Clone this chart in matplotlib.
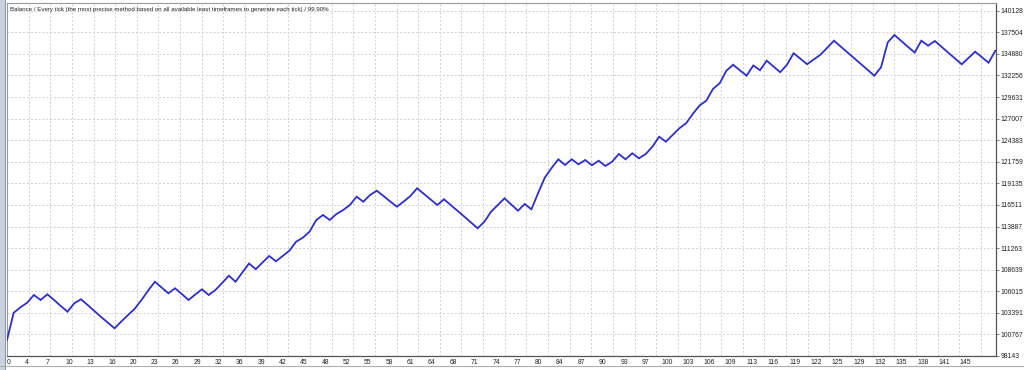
import numpy as np
import matplotlib
matplotlib.use("Agg")
import matplotlib.pyplot as plt
from matplotlib.patches import Rectangle
from matplotlib.lines import Line2D

title_text = ("Balance / Every tick (the most precise method based on all available "
              "least timeframes to generate each tick) / 99.90%")

balance = [
    100089, 103408, 104065, 104624, 105561, 104953, 105646, 104953, 104223, 103530,
    104551, 105038, 104345, 103615, 102885, 102192, 101511, 102338, 103129, 103895,
    104953, 106108, 107178, 106473, 105767, 106375, 105682, 104953, 105621, 106254,
    105561, 106169, 107020, 107907, 107178, 108297, 109391, 108698, 109513, 110303,
    109659, 110303, 110947, 112042, 112528, 113258, 114681, 115289, 114681, 115410,
    115897, 116505, 117514, 116906, 117721, 118243, 117599, 116930, 116298, 116930,
    117599, 118535, 117867, 117186, 116505, 117198, 116505, 115811, 115106, 114389,
    113671, 114474, 115690, 116505, 117319, 116565, 115811, 116626, 115982, 117964,
    119849, 121004, 122062, 121369, 122062, 121454, 121977, 121332, 121891, 121247,
    121770, 122706, 122062, 122791, 122183, 122706, 123594, 124810, 124202, 125017,
    125831, 126439, 127570, 128604, 129175, 130610, 131303, 132835, 133565, 132884,
    132227, 133468, 132896, 134051, 133346, 132653, 133553, 134963, 134295, 133626,
    134197, 134781, 135632, 136483, 135778, 135073, 134355, 133650, 132945, 132227,
    133249, 136289, 137177, 136459, 135742, 135049, 136483, 135875, 136447, 135742,
    135036, 134319, 133614, 134380, 135146, 134477, 133808, 135267,
]

x_tick_labels = ["0", "4", "7", "10", "13", "16", "20", "23", "26", "29", "32", "36",
                 "39", "42", "45", "48", "52", "55", "58", "61", "64", "68", "71", "74",
                 "77", "80", "84", "87", "90", "93", "97", "100", "103", "106", "109",
                 "113", "116", "119", "122", "125", "129", "132", "135", "138", "141", "145"]

y_tick_values = [98143, 100767, 103391, 106015, 108639, 111263, 113887, 116511, 119135,
                 121759, 124383, 127007, 129631, 132256, 134880, 137504, 140128]

W, H = 1024, 370
fig = plt.figure(figsize=(W / 100, H / 100), dpi=100)
fig.patch.set_facecolor("white")

# window chrome (left strip, bottom tab bar)
fig.patches.append(Rectangle((0, 0), 5 / W, 1, transform=fig.transFigure,
                             facecolor="#c9d3de", edgecolor="none", zorder=0))
fig.lines.append(Line2D([5 / W, 5 / W], [0, 1], transform=fig.transFigure,
                        color="#8a9aab", lw=0.8))
fig.lines.append(Line2D([0, 1], [4 / H, 4 / H], transform=fig.transFigure,
                        color="#b0b0b0", lw=0.8))

ax = fig.add_axes([7 / W, 14 / H, 989 / W, 353 / H])
ax.set_facecolor("white")

xs = np.arange(len(balance))
ax.plot(xs, balance, color="#2f2fc4", lw=1.3, solid_joinstyle="miter", zorder=3)

ax.set_xlim(0, 147.1)
ax.set_ylim(98143, 141068)

# vertical grid lines (minor ticks) and label positions (major ticks)
grid_step = 3.219
label_step = 3.174
ax.set_xticks(np.arange(46) * grid_step, minor=True)
label_pos = np.arange(len(x_tick_labels)) * label_step - 0.28
label_pos[0] = 0.25
ax.set_xticks(label_pos)
ax.set_xticklabels(x_tick_labels)
ax.set_yticks(y_tick_values)
ax.set_yticklabels([str(v) for v in y_tick_values])

ax.yaxis.tick_right()
ax.tick_params(axis="y", which="both", direction="out", length=2.5, width=0.6,
               color="#707070", pad=1.0, labelsize=4.9, labelcolor="#222222")
ax.tick_params(axis="x", which="major", length=0, pad=2.0, labelsize=4.9,
               labelcolor="#222222")
ax.tick_params(axis="x", which="minor", length=0)
for lab in ax.get_xticklabels() + ax.get_yticklabels():
    lab.set_fontfamily("Liberation Sans")

ax.grid(False, which="major", axis="x")
ax.grid(True, which="minor", axis="x", color="#cfcfcf", lw=0.7, linestyle=(0, (2, 2)))
ax.grid(True, which="major", axis="y", color="#cfcfcf", lw=0.7, linestyle=(0, (2, 2)))
ax.set_axisbelow(True)

for side in ["left", "top"]:
    ax.spines[side].set_color("#9a9a9a")
    ax.spines[side].set_linewidth(0.8)
for side in ["right", "bottom"]:
    ax.spines[side].set_color("#555555")
    ax.spines[side].set_linewidth(0.9)

ax.text(3 / 989, 1 - 7 / 353, title_text, transform=ax.transAxes, ha="left", va="center",
        fontsize=4.45, family="Liberation Sans", color="#222222", zorder=4)

fig.savefig("out.png", dpi=100, facecolor="white")
